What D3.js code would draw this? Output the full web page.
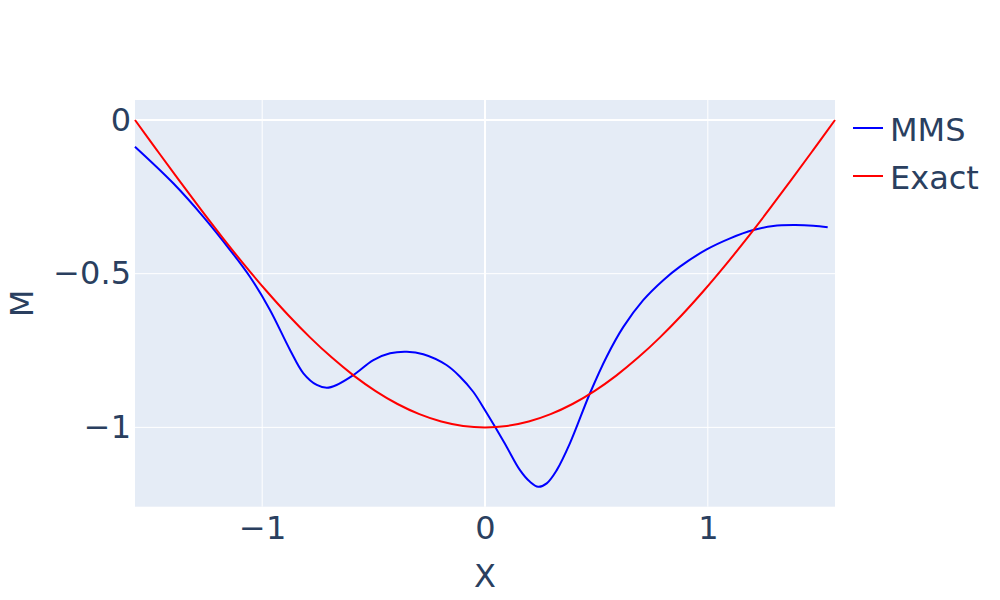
<!DOCTYPE html>
<html>
<head>
<meta charset="utf-8">
<script src="https://cdn.jsdelivr.net/npm/d3@7"></script>
<style>
  body { margin: 0; background: #fff; }
  text { font-family: 'DejaVu Sans', Verdana, sans-serif; fill: #2a3f5f; }
</style>
</head>
<body>
<script>
// MMS solution
var mmsX = [-1.571, -1.399, -1.264, -1.144, -1.055, -0.965, -0.875, -0.815, -0.755, -0.710,
            -0.666, -0.591, -0.501, -0.426, -0.351, -0.277, -0.173, -0.112, -0.053, 0.000,
            0.045, 0.097, 0.157, 0.202, 0.239, 0.277, 0.322, 0.381, 0.471, 0.546,
            0.621, 0.710, 0.800, 0.875, 0.995, 1.100, 1.204, 1.294, 1.384, 1.473, 1.538];
var mmsY = [-0.087, -0.206, -0.315, -0.423, -0.510, -0.618, -0.748, -0.824, -0.862, -0.871,
            -0.862, -0.830, -0.781, -0.759, -0.754, -0.762, -0.797, -0.835, -0.884, -0.944,
            -0.998, -1.063, -1.139, -1.177, -1.193, -1.182, -1.139, -1.052, -0.889, -0.770,
            -0.673, -0.586, -0.521, -0.477, -0.421, -0.385, -0.358, -0.345, -0.342, -0.344, -0.349];

// exact solution
var exactX = [-1.5708, -1.4726, -1.3744, -1.2763, -1.1781, -1.0799, -0.9817, -0.8836, -0.7854,
              -0.6872, -0.5890, -0.4909, -0.3927, -0.2945, -0.1963, -0.0982, 0,
              0.0982, 0.1963, 0.2945, 0.3927, 0.4909, 0.5890, 0.6872, 0.7854,
              0.8836, 0.9817, 1.0799, 1.1781, 1.2763, 1.3744, 1.4726, 1.5708];
var exactY = [0, -0.0980, -0.1951, -0.2903, -0.3827, -0.4714, -0.5556, -0.6344, -0.7071,
              -0.7730, -0.8315, -0.8819, -0.9239, -0.9569, -0.9808, -0.9952, -1,
              -0.9952, -0.9808, -0.9569, -0.9239, -0.8819, -0.8315, -0.7730, -0.7071,
              -0.6344, -0.5556, -0.4714, -0.3827, -0.2903, -0.1951, -0.0980, 0];

var xTicks = [-1, 0, 1];
var yTicks = [0, -0.5, -1];
var seriesNames = ['MMS', 'Exact'];
var seriesColors = ['blue', 'red'];

var plotLeft = 135, plotRight = 835, plotTop = 100, plotBottom = 506.7;

var x = d3.scaleLinear().domain([-1.5708, 1.5708]).range([plotLeft, plotRight]);
var y = d3.scaleLinear().domain([-1.258, 0.065]).range([plotBottom, plotTop]);

var svg = d3.select('body')
            .append('svg')
            .attr('width', 1000)
            .attr('height', 600);

svg.append('rect')
    .attr('x', plotLeft)
    .attr('y', plotTop)
    .attr('width', plotRight - plotLeft)
    .attr('height', plotBottom - plotTop)
    .attr('fill', '#e5ecf6');

// grid
svg.append('g').selectAll('line')
    .data(xTicks)
    .enter().append('line')
        .attr('x1', function(d){return x(d);})
        .attr('x2', function(d){return x(d);})
        .attr('y1', plotTop)
        .attr('y2', plotBottom)
        .attr('stroke', '#fff')
        .attr('stroke-width', function(d){return d === 0 ? 2 : 1;});

svg.append('g').selectAll('line')
    .data(yTicks)
    .enter().append('line')
        .attr('x1', plotLeft)
        .attr('x2', plotRight)
        .attr('y1', function(d){return y(d);})
        .attr('y2', function(d){return y(d);})
        .attr('stroke', '#fff')
        .attr('stroke-width', function(d){return d === 0 ? 2 : 1;});

// axes
var fmt = function(d){return d < 0 ? '\u2212' + Math.abs(d) : d;};
var xAxis = d3.axisBottom(x).tickValues(xTicks).tickSize(0).tickPadding(10).tickFormat(fmt);
var yAxis = d3.axisLeft(y).tickValues(yTicks).tickSize(0).tickPadding(4).tickFormat(fmt);

var gx = svg.append('g')
    .attr('transform', 'translate(0,' + plotBottom + ')')
    .call(xAxis);
var gy = svg.append('g')
    .attr('transform', 'translate(' + plotLeft + ',0)')
    .call(yAxis);

[gx, gy].forEach(function(g){
    g.select('.domain').remove();
    g.selectAll('text')
        .attr('font-family', "'DejaVu Sans', Verdana, sans-serif")
        .attr('font-size', 32)
        .attr('fill', '#2a3f5f');
});

svg.append('text')
    .attr('x', (plotLeft + plotRight) / 2)
    .attr('y', 587)
    .attr('text-anchor', 'middle')
    .attr('font-size', 32)
    .text('X');

svg.append('text')
    .attr('transform', 'translate(33,' + ((plotTop + plotBottom) / 2) + ') rotate(-90)')
    .attr('text-anchor', 'middle')
    .attr('font-size', 32)
    .text('M');

// lines (smoothed through the read points)
var line = d3.line()
    .curve(d3.curveCatmullRom.alpha(0.5))
    .x(function(d){return x(d[0]);})
    .y(function(d){return y(d[1]);});

var series = [d3.zip(mmsX, mmsY), d3.zip(exactX, exactY)];

svg.append('g')
    .selectAll('path')
    .data(series)
    .enter().append('path')
        .attr('d', line)
        .attr('fill', 'none')
        .attr('stroke', function(d, i){return seriesColors[i];})
        .attr('stroke-width', 2);

// legend
var legend = svg.append('g').selectAll('g')
    .data(seriesNames)
    .enter().append('g')
        .attr('transform', function(d, i){return 'translate(853,' + (128 + i * 48) + ')';});

legend.append('line')
    .attr('x1', 0)
    .attr('x2', 30)
    .attr('stroke', function(d, i){return seriesColors[i];})
    .attr('stroke-width', 2);

legend.append('text')
    .attr('x', 37)
    .attr('y', 13)
    .attr('font-size', 32)
    .text(function(d){return d;});
</script>
</body>
</html>
